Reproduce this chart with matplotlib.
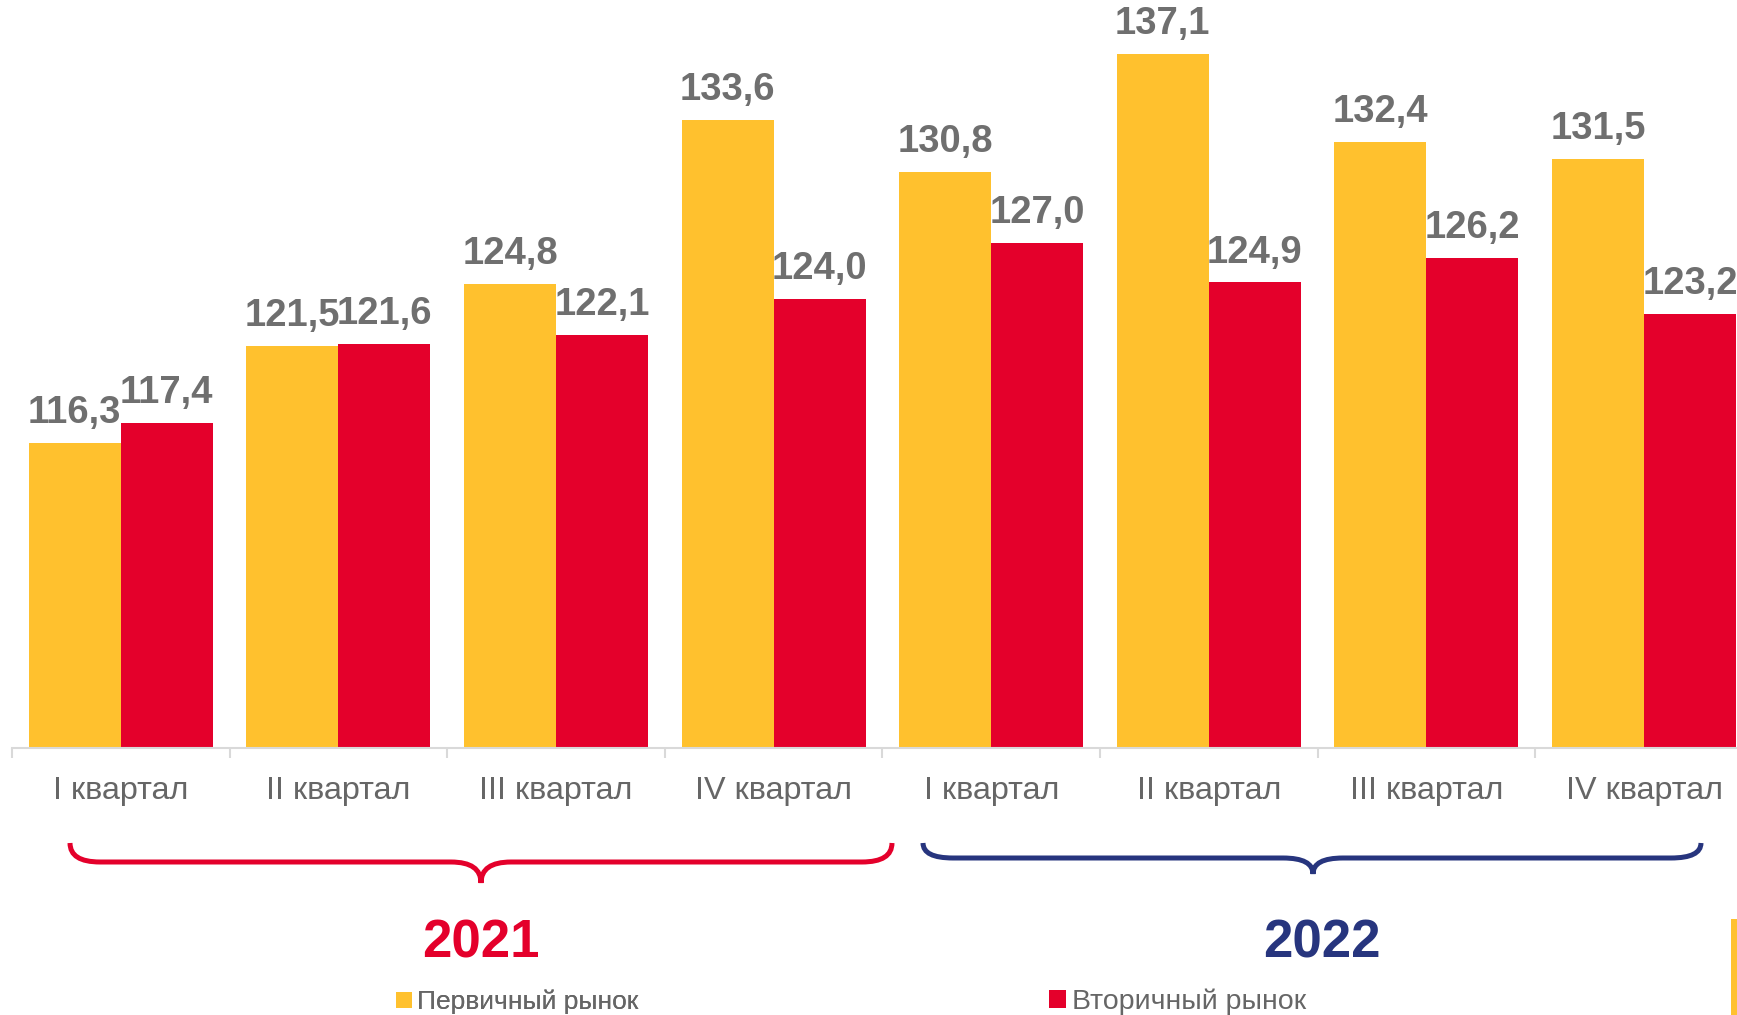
import matplotlib
matplotlib.use("Agg")
import matplotlib.pyplot as plt
from matplotlib.path import Path
from matplotlib.patches import PathPatch, Rectangle
import numpy as np

plt.rcParams['font.family'] = ['Liberation Sans', 'DejaVu Sans']

# данные
quarters = ["I квартал", "II квартал", "III квартал", "IV квартал"] * 2
primary = [116.3, 121.5, 124.8, 133.6, 130.8, 137.1, 132.4, 131.5]
secondary = [117.4, 121.6, 122.1, 124.0, 127.0, 124.9, 126.2, 123.2]
years = ["2021", "2022"]
series_names = ["Первичный рынок", "Вторичный рынок"]

YELLOW = "#FFC12E"
RED = "#E4002B"
NAVY = "#27357E"
GRAY = "#6f6f6f"
AXIS = "#d9d9d9"

W, H = 1737, 1015
fig = plt.figure(figsize=(W / 100, H / 100), dpi=100)

# оси: левый край 12px, база 748px, верх = край рисунка
ax = fig.add_axes([12 / W, (H - 748) / H, (W - 12) / W, 748 / H])
x = np.arange(len(quarters))
bw = 0.423
b1 = ax.bar(x - bw / 2, primary, bw, color=YELLOW, label=series_names[0])
b2 = ax.bar(x + bw / 2, secondary, bw, color=RED, label=series_names[1])

fmt = lambda vals: [f"{v:.1f}".replace(".", ",") for v in vals]
ax.bar_label(b1, labels=fmt(primary), padding=8.5, fontsize=27.5, fontweight="bold", color=GRAY)
ax.bar_label(b2, labels=fmt(secondary), padding=8.5, fontsize=27.5, fontweight="bold", color=GRAY)

ax.set_xticks(x)
ax.set_xticklabels(quarters, fontsize=23.3, color="#666666")
ax.set_xticks(np.arange(-0.5, len(quarters), 1), minor=True)
ax.tick_params(axis="x", which="major", length=0, pad=20)
ax.tick_params(axis="x", which="minor", length=7, width=1.5, color=AXIS)
ax.set_yticks([])
for s in ["left", "right", "top"]:
    ax.spines[s].set_visible(False)
ax.spines["bottom"].set_color(AXIS)
ax.spines["bottom"].set_linewidth(1.5)

# пределы после тиков, иначе set_xticks их расширяет
ax.set_ylim(100, 140)
ax.set_xlim(-0.5, -0.5 + (W - 12) / 217.6)


def to_fig(pts):
    return [(px / W, 1 - py / H) for px, py in pts]


def brace(x0, x1, xc, ytop, yline, ytip, color, r=30):
    pts = [(x0, ytop), (x0, yline), (x0 + r, yline),
           (xc - r, yline), (xc, yline), (xc, ytip),
           (xc, yline), (xc + r, yline),
           (x1 - r, yline), (x1, yline), (x1, ytop)]
    codes = [Path.MOVETO, Path.CURVE3, Path.CURVE3,
             Path.LINETO, Path.CURVE3, Path.CURVE3,
             Path.CURVE3, Path.CURVE3,
             Path.LINETO, Path.CURVE3, Path.CURVE3]
    p = PathPatch(Path(to_fig(pts), codes), transform=fig.transFigure,
                  fill=False, ec=color, lw=3.6, capstyle="butt")
    fig.add_artist(p)


brace(70, 892, 481, 843, 862, 883, RED)
brace(923, 1701, 1313, 843, 858, 874, NAVY)

fig.text(481 / W, 1 - 944 / H, years[0], ha="center", va="center",
         fontsize=38, fontweight="bold", color=RED)
fig.text(1322 / W, 1 - 944 / H, years[1], ha="center", va="center",
         fontsize=38, fontweight="bold", color=NAVY)

# легенда: два отдельных элемента
leg_kw = dict(loc="center left", frameon=False, handlelength=0.6, handleheight=0.6,
              handletextpad=0.2, borderpad=0, borderaxespad=0, labelcolor="#666666")
leg1 = fig.legend(handles=[b1], labels=[series_names[0]], fontsize=19,
                  bbox_to_anchor=(396 / W, 1 - 1002 / H), **leg_kw)
fig.add_artist(leg1)
fig.legend(handles=[b2], labels=[series_names[1]], fontsize=20.5,
           bbox_to_anchor=(1049 / W, 1 - 1002 / H), **leg_kw)

# жёлтая полоса справа внизу
fig.add_artist(Rectangle((1731 / W, 0), 6 / W, (H - 919) / H,
                         transform=fig.transFigure, color=YELLOW, lw=0))

fig.savefig("out.png", dpi=100)
